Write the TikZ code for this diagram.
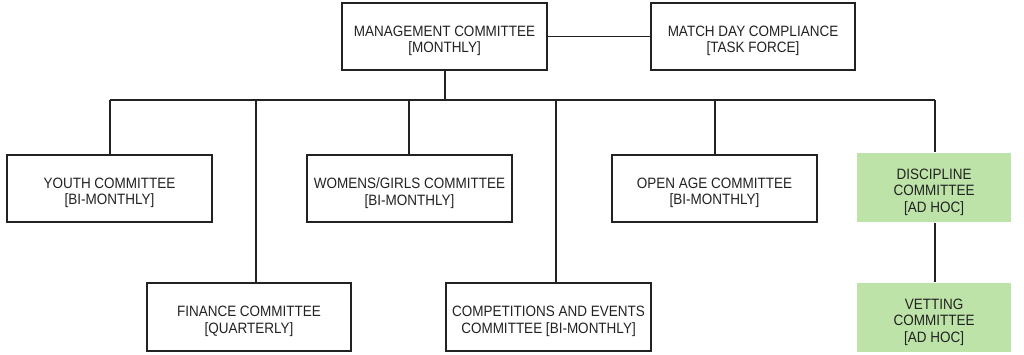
\documentclass[tikz,border=0pt]{standalone}
\usepackage{fontspec}
\setmainfont[FakeStretch=0.9]{Liberation Sans}
\definecolor{ink}{HTML}{222222}
\definecolor{vgreen}{HTML}{BDE3A8}
\begin{document}
\begin{tikzpicture}[x=1pt,y=-1pt,
  box/.style={draw=ink,line width=1.4pt,fill=white,minimum width=205pt,minimum height=67pt,inner sep=0pt},
  gbox/.style={box,draw=none,fill=vgreen,minimum width=154pt,minimum height=69pt},
  txt/.style={align=center,inner sep=0pt,text=ink,yshift=-4.5pt,font=\fontsize{15}{16.5}\selectfont},
  link/.style={draw=ink,line width=1.1pt}]
\useasboundingbox (0,0) rectangle (1024,354);
\node[box,label={[txt]center:{MANAGEMENT COMMITTEE\\{}[MONTHLY]}}] (mgmt) at (444.5,36.5) {};
\node[box,minimum width=204pt,label={[txt]center:{MATCH DAY COMPLIANCE\\{}[TASK FORCE]}}] (match) at (753,36.5) {};
\node[box,label={[txt]center:{YOUTH COMMITTEE\\{}[BI-MONTHLY]}}] (youth) at (109.5,188.5) {};
\node[box,label={[txt]center:{WOMENS/GIRLS COMMITTEE\\{}[BI-MONTHLY]}}] (women) at (409.5,188.5) {};
\node[box,label={[txt]center:{OPEN AGE COMMITTEE\\{}[BI-MONTHLY]}}] (open) at (714.5,188.5) {};
\node[gbox,label={[txt]center:{DISCIPLINE\\COMMITTEE\\{}[AD HOC]}}] (disc) at (934,187.5) {};
\node[box,minimum width=204pt,minimum height=68pt,label={[txt]center:{FINANCE COMMITTEE\\{}[QUARTERLY]}}] (fin) at (249,317) {};
\node[box,minimum height=68pt,label={[txt]center:{COMPETITIONS AND EVENTS\\COMMITTEE [BI-MONTHLY]}}] (comp) at (548.5,317) {};
\node[gbox,label={[txt]center:{VETTING\\COMMITTEE\\{}[AD HOC]}}] (vet) at (934,317.5) {};
\coordinate (busL) at (110,100);
\coordinate (busR) at (935,100);
\coordinate (busM) at (445,100);
\coordinate (fx) at (256,100);
\coordinate (cx) at (556,100);
\coordinate (ox) at (715,100);
\coordinate (wx) at (409,100);
\draw[link] (mgmt.east) -- (match.west);
\draw[link] (mgmt.south -| busM) -- (busM);
\draw[link] (busL) -- (busR);
\draw[link] (busL) -- (youth.north -| busL);
\draw[link] (fx) -- (fin.north -| fx);
\draw[link] (wx) -- (women.north -| wx);
\draw[link] (cx) -- (comp.north -| cx);
\draw[link] (ox) -- (open.north -| ox);
\draw[link] (busR) -- (disc.north -| busR);
\draw[link] (disc.south -| busR) -- (vet.north -| busR);
\end{tikzpicture}
\end{document}
